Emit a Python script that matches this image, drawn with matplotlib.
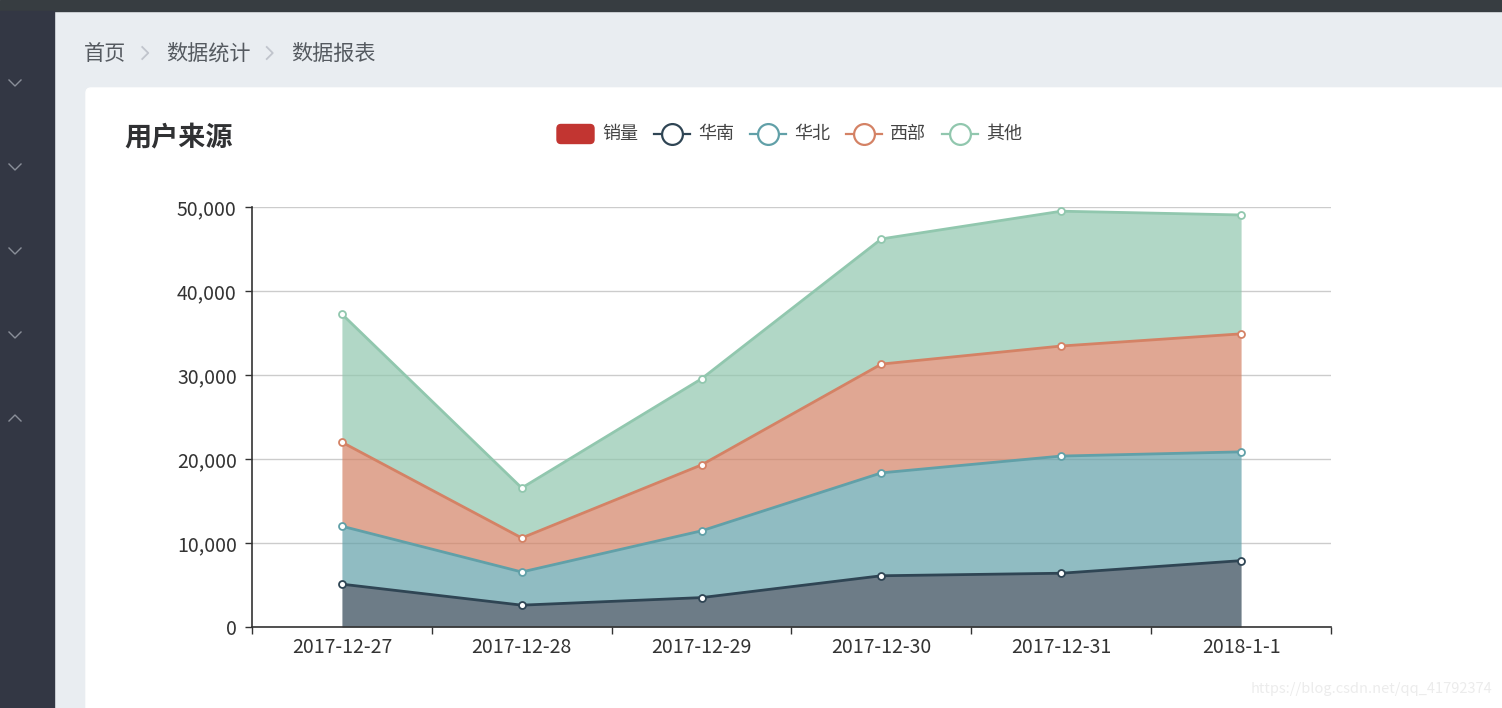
import matplotlib
matplotlib.use("Agg")
import matplotlib.pyplot as plt
import numpy as np
from matplotlib.patches import FancyBboxPatch, Rectangle

plt.rcParams["font.family"] = ["Noto Sans CJK SC", "DejaVu Sans"]

# data
dates = ["2017-12-27", "2017-12-28", "2017-12-29", "2017-12-30", "2017-12-31", "2018-1-1"]
series_names = ["华南", "华北", "西部", "其他"]
south = [5100, 2600, 3500, 6100, 6400, 7900]
north = [6900, 3950, 7950, 12250, 13950, 12950]
west = [10000, 4050, 7850, 12950, 13100, 14050]
other = [15250, 5950, 10250, 14900, 16050, 14150]
legend_names = ["销量"] + series_names
y_ticks = [0, 10000, 20000, 30000, 40000, 50000]
breadcrumb = ["首页", "数据统计", "数据报表"]
title = "用户来源"
watermark = "https://blog.csdn.net/qq_41792374"

colors = ["#2f4554", "#61a0a8", "#d48265", "#91c7ae"]
bar_color = "#c23531"

W, H = 1502, 708
fig = plt.figure(figsize=(W / 100, H / 100), dpi=100)

# page decoration in pixel coordinates
bg = fig.add_axes([0, 0, 1, 1])
bg.set_xlim(0, W)
bg.set_ylim(H, 0)
bg.axis("off")
bg.add_patch(Rectangle((0, 0), W, H, color="#e9edf1", zorder=0))
bg.add_patch(Rectangle((0, 0), W, 11, color="#373d41", zorder=1))
bg.add_patch(Rectangle((0, 11), 54, H, color="#333744", zorder=1))
bg.add_patch(FancyBboxPatch((86, 88), W, H, boxstyle="round,pad=0,rounding_size=5",
                            color="white", zorder=1))

# sidebar chevrons
for yc in [83, 167, 251, 335]:
    bg.plot([9, 15, 21], [yc - 3, yc + 3, yc - 3], color="#8a8f99", lw=1.0, zorder=2)
bg.plot([9, 15, 21], [421, 415, 421], color="#8a8f99", lw=1.0, zorder=2)

# breadcrumb
bx = 84
for i, item in enumerate(breadcrumb):
    t = bg.text(bx, 54, item, fontsize=15.2, color="#555a60", va="center", ha="left", zorder=3)
    fig.canvas.draw()
    bx += t.get_window_extent().width
    if i < len(breadcrumb) - 1:
        cx = bx + 19
        bg.plot([cx - 3, cx + 3, cx - 3], [47, 53, 59], color="#c0c4cc", lw=1.3, zorder=3)
        bx = cx + 21

bg.text(124, 137, title, fontsize=19.5, fontweight="bold", color="#303133", va="center", ha="left", zorder=3)

# legend
lx = 557
ly = 134
for i, name in enumerate(legend_names):
    if i == 0:
        bg.add_patch(FancyBboxPatch((lx, ly - 9.5), 37, 19, boxstyle="round,pad=0,rounding_size=4",
                                    color=bar_color, zorder=3))
        tx = lx + 45
    else:
        c = colors[i - 1]
        bg.plot([lx, lx + 36], [ly, ly], color=c, lw=1.6, zorder=3)
        bg.plot([lx + 18], [ly], marker="o", ms=15, mfc="white", mec=c, mew=1.6, zorder=4)
        tx = lx + 44
    t = bg.text(tx, ly, name, fontsize=13, color="#444", va="center", ha="left", zorder=3)
    fig.canvas.draw()
    lx = tx + t.get_window_extent().width + 16

bg.text(1492, 689, watermark, fontsize=10.5, color="#ececec", va="center", ha="right", zorder=3)

# chart
ax = fig.add_axes([252 / W, (H - 627) / H, (1331 - 252) / W, (627 - 207) / H])
ax.set_facecolor("none")
x = np.arange(len(dates))
stack = np.cumsum(np.array([south, north, west, other]), axis=0)
lower = np.zeros(len(dates))
for i, upper in enumerate(stack):
    ax.fill_between(x, lower, upper, color=colors[i], alpha=0.7, lw=0, zorder=2 + i)
    ax.plot(x, upper, color=colors[i], lw=2.0, zorder=10 + i,
            marker="o", ms=5, mfc="white", mec=colors[i], mew=1.3)
    lower = upper

ax.set_xlim(-0.5, len(dates) - 0.5)
ax.set_ylim(0, 50000)
ax.set_yticks(y_ticks)
ax.set_yticklabels([f"{v:,}" for v in y_ticks])
ax.set_xticks(np.arange(-0.5, len(dates)), labels=[""] * (len(dates) + 1))
ax.set_xticks(x, labels=dates, minor=True)
ax.tick_params(axis="x", which="major", length=5, width=1, color="#333", direction="out")
ax.tick_params(axis="x", which="minor", length=0, pad=7, labelsize=14, labelcolor="#333")
ax.tick_params(axis="y", length=5, width=1, color="#333", pad=6, labelsize=14, labelcolor="#333")
ax.grid(axis="y", color="#cccccc", lw=1, zorder=1)
ax.set_axisbelow(True)
for s in ["top", "right"]:
    ax.spines[s].set_visible(False)
for s in ["left", "bottom"]:
    ax.spines[s].set_color("#333")
    ax.spines[s].set_linewidth(1.2)

fig.savefig("out.png", dpi=100)
